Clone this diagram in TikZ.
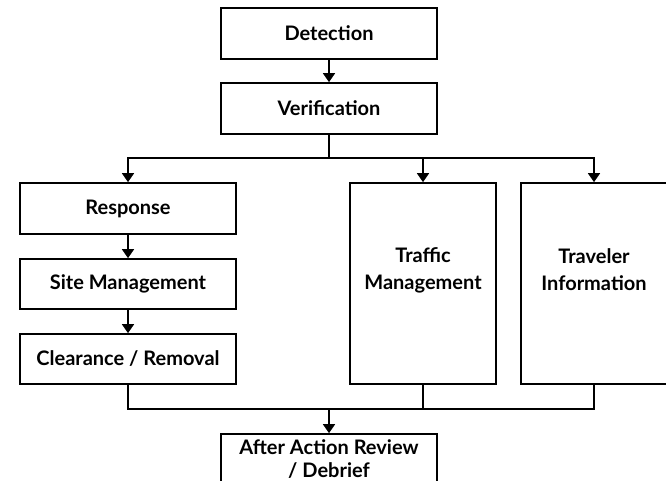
\documentclass[tikz,border=0pt]{standalone}
\usepackage{fontspec}
\setmainfont{Lato}
\usetikzlibrary{arrows.meta}
\begin{document}
\begin{tikzpicture}[x=1pt,y=-1pt,
  box/.style={draw=black, line width=1.7pt, fill=white, minimum width=216pt, minimum height=51pt,
    inner sep=0pt, align=center, font=\fontsize{20}{23}\selectfont\bfseries},
  tallbox/.style={box, minimum width=146pt, minimum height=201pt},
  lbl/.style={font=\fontsize{20}{27}\selectfont\bfseries, align=center},
  conn/.style={line width=1.7pt, draw=black},
  arr/.style={conn, -{Triangle[width=12pt,length=9pt]}}]
\useasboundingbox[fill=white] (0,0) rectangle (666,481);

\node[box] (det) at (329,33.5) {Detection};
\node[box] (ver) at (329,108.5) {Verification};
\node[box] (resp) at (128,208.5) {Response};
\node[box, minimum height=50pt] (site) at (128,284) {Site Management};
\node[box, minimum height=50pt] (clr) at (128,359) {Clearance / Removal};
\node[tallbox, label={[lbl, name=trafl, yshift=13.5pt]center:Traffic\\Management}] (traf) at (423,283.5) {};
\node[tallbox, label={[lbl, name=travl, yshift=13.5pt]center:Traveler\\Information}] (trav) at (594,283.5) {};
\node[box] (after) at (329,459.5) {After Action Review\\/ Debrief};

\coordinate (split) at (329,158);
\coordinate (merge) at (329,409);

\draw[arr] (det.south) -- (ver.north);
\draw[arr] (ver.south) -- (split) -| (resp.north);
\draw[arr] (split) -| (traf.north);
\draw[arr] (split) -| (trav.north);
\draw[arr] (resp.south) -- (site.north);
\draw[arr] (site.south) -- (clr.north);
\draw[conn] (clr.south) |- (merge);
\draw[conn] (traf.south) |- (merge);
\draw[conn] (trav.south) |- (merge);
\draw[arr] (merge) -- (after.north);
\end{tikzpicture}
\end{document}
